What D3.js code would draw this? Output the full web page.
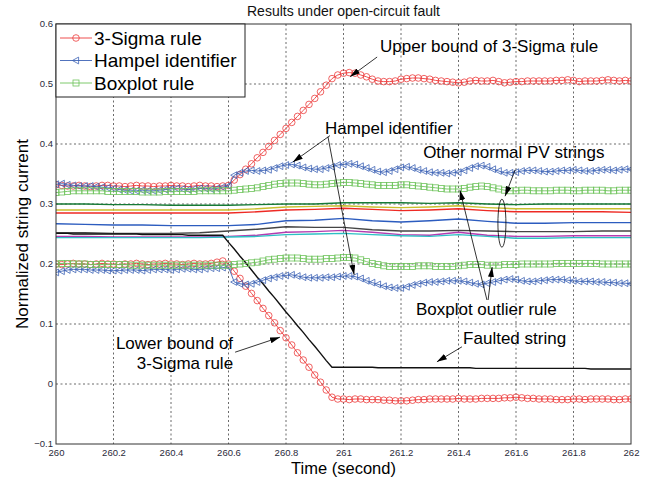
<!DOCTYPE html>
<html><head><meta charset="utf-8">
<script src="https://cdn.jsdelivr.net/npm/d3@7"></script>
<style>html,body{margin:0;padding:0;background:#fff;}svg{display:block;font-family:"Liberation Sans",Arial,Helvetica,sans-serif;}</style>
</head><body><svg id="c" width="648" height="478"></svg>
<script>
// ---------------- DATA ----------------
const tStart = 260, tEnd = 262;
const xTicks = [260, 260.2, 260.4, 260.6, 260.8, 261, 261.2, 261.4, 261.6, 261.8, 262];
const yTicks = [-0.1, 0, 0.1, 0.2, 0.3, 0.4, 0.5, 0.6];
// sample times for marker series (0.02 s step)
const time = d3.range(101).map(i => +(260 + i * 0.02).toFixed(2));
// sample times for normal strings (0.1 s step)
const timeNorm = d3.range(21).map(i => +(260 + i * 0.1).toFixed(1));

const sigmaUpper = [0.332,0.331,0.330,0.330,0.331,0.330,0.329,0.330,0.331,0.331,
0.330,0.330,0.329,0.330,0.331,0.330,0.330,0.329,0.330,0.330,
0.331,0.330,0.330,0.329,0.330,0.331,0.330,0.330,0.329,0.330,
0.331,0.340,0.349,0.358,0.367,0.377,0.386,0.396,0.406,0.416,
0.426,0.436,0.446,0.456,0.466,0.476,0.487,0.498,0.509,0.515,
0.518,0.519,0.518,0.515,0.512,0.508,0.505,0.504,0.504,0.505,
0.508,0.509,0.510,0.510,0.509,0.508,0.506,0.505,0.504,0.503,
0.502,0.503,0.505,0.506,0.505,0.505,0.506,0.504,0.502,0.503,
0.504,0.504,0.505,0.505,0.505,0.505,0.505,0.506,0.506,0.507,
0.506,0.504,0.505,0.505,0.505,0.506,0.507,0.506,0.505,0.506,0.505];
const sigmaLower = [0.200,0.199,0.200,0.201,0.200,0.200,0.199,0.200,0.201,0.200,
0.200,0.199,0.200,0.200,0.201,0.200,0.199,0.200,0.200,0.201,
0.200,0.200,0.199,0.200,0.201,0.200,0.200,0.201,0.203,0.205,
0.200,0.188,0.176,0.163,0.151,0.139,0.126,0.114,0.102,0.089,
0.077,0.065,0.052,0.040,0.028,0.015,0.003,-0.010,-0.022,-0.025,
-0.025,-0.026,-0.025,-0.025,-0.026,-0.026,-0.026,-0.027,-0.027,-0.028,
-0.028,-0.028,-0.027,-0.026,-0.026,-0.025,-0.025,-0.025,-0.025,-0.025,
-0.024,-0.025,-0.025,-0.025,-0.024,-0.024,-0.024,-0.024,-0.023,-0.023,
-0.022,-0.023,-0.024,-0.024,-0.025,-0.025,-0.025,-0.026,-0.026,-0.026,
-0.025,-0.025,-0.026,-0.025,-0.025,-0.025,-0.025,-0.026,-0.026,-0.025,-0.025];
const hampelUpper = [0.333,0.334,0.332,0.331,0.330,0.330,0.330,0.329,0.328,0.327,
0.326,0.324,0.323,0.322,0.322,0.323,0.322,0.322,0.323,0.324,
0.325,0.326,0.325,0.324,0.325,0.326,0.326,0.325,0.326,0.328,
0.330,0.348,0.352,0.355,0.356,0.355,0.356,0.357,0.360,0.363,
0.365,0.366,0.364,0.361,0.359,0.358,0.358,0.360,0.362,0.365,
0.366,0.367,0.366,0.363,0.360,0.357,0.354,0.353,0.355,0.358,
0.361,0.362,0.360,0.357,0.355,0.353,0.352,0.352,0.351,0.352,
0.353,0.356,0.360,0.363,0.364,0.362,0.358,0.355,0.352,0.352,
0.353,0.355,0.356,0.356,0.355,0.354,0.354,0.355,0.356,0.356,
0.357,0.356,0.355,0.355,0.356,0.357,0.357,0.356,0.357,0.358,0.358];
const hampelLower = [0.186,0.188,0.190,0.191,0.191,0.191,0.190,0.190,0.190,0.189,
0.189,0.189,0.190,0.190,0.190,0.189,0.190,0.191,0.191,0.191,
0.190,0.191,0.192,0.192,0.191,0.191,0.192,0.193,0.193,0.194,
0.195,0.170,0.167,0.166,0.167,0.170,0.173,0.176,0.178,0.180,
0.181,0.182,0.180,0.178,0.177,0.177,0.177,0.178,0.178,0.179,
0.180,0.180,0.179,0.176,0.172,0.169,0.166,0.163,0.161,0.160,
0.160,0.162,0.165,0.167,0.169,0.170,0.170,0.171,0.172,0.172,
0.172,0.171,0.169,0.167,0.166,0.168,0.170,0.172,0.174,0.175,
0.174,0.172,0.171,0.171,0.172,0.173,0.174,0.174,0.174,0.173,
0.172,0.171,0.171,0.171,0.170,0.170,0.169,0.169,0.168,0.168,0.167];
const boxUpper = [0.319,0.320,0.321,0.322,0.322,0.322,0.322,0.322,0.322,0.321,
0.321,0.321,0.321,0.321,0.321,0.320,0.320,0.320,0.320,0.321,
0.321,0.321,0.321,0.321,0.321,0.322,0.322,0.322,0.322,0.322,
0.322,0.323,0.324,0.325,0.326,0.327,0.329,0.331,0.333,0.334,
0.335,0.335,0.335,0.334,0.333,0.332,0.332,0.333,0.334,0.335,
0.336,0.336,0.335,0.334,0.333,0.332,0.331,0.331,0.331,0.331,
0.332,0.332,0.331,0.330,0.329,0.328,0.327,0.326,0.325,0.325,
0.325,0.326,0.328,0.329,0.330,0.329,0.327,0.325,0.323,0.322,
0.322,0.323,0.323,0.322,0.322,0.322,0.322,0.323,0.323,0.323,
0.322,0.322,0.323,0.323,0.323,0.323,0.322,0.322,0.323,0.323,0.323];
const boxLower = [0.200,0.201,0.201,0.200,0.200,0.200,0.199,0.199,0.199,0.199,
0.199,0.199,0.199,0.198,0.198,0.198,0.198,0.198,0.198,0.198,
0.198,0.198,0.198,0.198,0.198,0.198,0.198,0.198,0.198,0.198,
0.198,0.199,0.200,0.201,0.202,0.203,0.205,0.207,0.208,0.209,
0.210,0.210,0.210,0.209,0.208,0.208,0.208,0.209,0.209,0.210,
0.211,0.211,0.210,0.207,0.204,0.201,0.199,0.197,0.196,0.196,
0.196,0.196,0.196,0.197,0.197,0.197,0.196,0.196,0.196,0.196,
0.197,0.198,0.199,0.199,0.199,0.198,0.198,0.198,0.199,0.199,
0.199,0.200,0.200,0.200,0.200,0.200,0.200,0.201,0.201,0.201,
0.201,0.201,0.201,0.201,0.201,0.200,0.200,0.200,0.200,0.200,0.200];
const faulted = [0.251,0.251,0.251,0.250,0.250,0.250,0.250,0.250,0.250,0.250,
0.250,0.250,0.250,0.250,0.250,0.249,0.249,0.249,0.249,0.249,
0.249,0.249,0.249,0.248,0.248,0.248,0.248,0.248,0.248,0.248,
0.236,0.225,0.213,0.202,0.190,0.178,0.167,0.155,0.144,0.132,
0.120,0.109,0.097,0.086,0.074,0.063,0.051,0.039,0.028,0.028,
0.028,0.028,0.028,0.028,0.028,0.028,0.027,0.027,0.027,0.027,
0.027,0.027,0.027,0.027,0.027,0.027,0.027,0.027,0.027,0.027,
0.027,0.027,0.027,0.026,0.026,0.026,0.026,0.026,0.026,0.026,
0.026,0.026,0.026,0.026,0.026,0.026,0.026,0.026,0.026,0.026,
0.026,0.026,0.026,0.025,0.025,0.025,0.025,0.025,0.025,0.025,0.025];

const normalNames = ["green","yellow","red","blue","gray","magenta","cyan"];
const normGreen   = [0.300,0.300,0.299,0.299,0.298,0.298,0.298,0.299,0.300,0.300,0.302,0.302,0.302,0.301,0.302,0.300,0.299,0.300,0.300,0.300,0.300];
const normYellow  = [0.290,0.290,0.290,0.290,0.290,0.290,0.290,0.292,0.295,0.296,0.297,0.295,0.294,0.295,0.297,0.294,0.292,0.292,0.292,0.292,0.292];
const normRed     = [0.285,0.285,0.285,0.285,0.285,0.285,0.285,0.287,0.290,0.291,0.293,0.291,0.289,0.290,0.292,0.289,0.287,0.287,0.287,0.287,0.286];
const normBlue    = [0.267,0.266,0.265,0.265,0.264,0.264,0.264,0.266,0.272,0.273,0.276,0.272,0.270,0.272,0.275,0.271,0.268,0.268,0.269,0.269,0.269];
const normGray    = [0.252,0.252,0.251,0.251,0.251,0.252,0.255,0.258,0.262,0.261,0.261,0.257,0.255,0.255,0.256,0.255,0.254,0.254,0.254,0.255,0.255];
const normMagenta = [0.246,0.246,0.245,0.245,0.245,0.245,0.246,0.248,0.253,0.254,0.256,0.253,0.249,0.248,0.253,0.248,0.246,0.246,0.247,0.247,0.247];
const normCyan    = [0.244,0.244,0.244,0.244,0.244,0.244,0.245,0.246,0.249,0.250,0.251,0.249,0.247,0.246,0.249,0.246,0.243,0.243,0.244,0.244,0.244];

const legendLabels = ["3-Sigma rule", "Hampel identifier", "Boxplot rule"];

// ---------------- LAYOUT ----------------
const W = 648, H = 478;
const m = {left: 56, right: 17, top: 24, bottom: 34};
const svg = d3.select("#c");
const x = d3.scaleLinear().domain([tStart, tEnd]).range([m.left, W - m.right]);
const y = d3.scaleLinear().domain([-0.1, 0.6]).range([H - m.bottom, m.top]);
const x0 = m.left, x1 = W - m.right, y0 = m.top, y1 = H - m.bottom;

const C = {red: "#ec3b3b", blue: "#3d63b5", green: "#6fc45c"};
const normColors = {green:"#167a36", yellow:"#c9bf2d", red:"#ee2a24", blue:"#2c5cbf", gray:"#454545", magenta:"#b33cb0", cyan:"#2cc0c4"};

// grid
const grid = svg.append("g").attr("stroke", "#444").attr("stroke-width", 0.8).attr("stroke-dasharray", "2,2.5");
xTicks.slice(1, -1).forEach(t => grid.append("line").attr("x1", x(t)).attr("x2", x(t)).attr("y1", y0).attr("y2", y1));
yTicks.slice(1, -1).forEach(v => grid.append("line").attr("x1", x0).attr("x2", x1).attr("y1", y(v)).attr("y2", y(v)));

// axes (tick labels)
const xAxis = d3.axisBottom(x).tickValues(xTicks).tickSize(0).tickPadding(6).tickFormat(d => d3.format("")(+d.toFixed(1)));
const yAxis = d3.axisLeft(y).tickValues(yTicks).tickSize(0).tickPadding(3).tickFormat(d => d3.format("")(+d.toFixed(1)));
const gx = svg.append("g").attr("transform", `translate(0,${y1})`).call(xAxis);
const gy = svg.append("g").attr("transform", `translate(${x0},0)`).call(yAxis);
[gx, gy].forEach(g => { g.select(".domain").remove(); g.selectAll("text").attr("font-size", 9.5).attr("fill", "#2a2a3a").attr("font-family", "Liberation Sans, Arial, sans-serif"); });
gx.selectAll("text").attr("dy", "0.6em");
gy.selectAll("text").attr("dy", "0.3em");

const clip = svg.append("defs").append("clipPath").attr("id", "clip").append("rect").attr("x", x0).attr("y", y0).attr("width", x1 - x0).attr("height", y1 - y0);
const plot = svg.append("g").attr("clip-path", "url(#clip)");

// normal strings
const lineN = d3.line().x((d, i) => x(timeNorm[i])).y(d => y(d));
const normSeries = [normGreen, normYellow, normRed, normBlue, normGray, normMagenta, normCyan];
normSeries.forEach((s, k) => plot.append("path").attr("d", lineN(s)).attr("fill", "none").attr("stroke", normColors[normalNames[k]]).attr("stroke-width", 1.4));

// faulted string
const lineT = d3.line().x((d, i) => x(time[i])).y(d => y(d));
plot.append("path").attr("d", lineT(faulted)).attr("fill", "none").attr("stroke", "#111").attr("stroke-width", 1.4);

// marker helpers
function drawSeries(vals, color, kind) {
  plot.append("path").attr("d", lineT(vals)).attr("fill", "none").attr("stroke", color).attr("stroke-width", 0.9);
  const g = plot.append("g").attr("fill", "none").attr("stroke", color).attr("stroke-width", 0.8);
  vals.forEach((v, i) => addMarker(g, x(time[i]), y(v), kind));
}
function addMarker(g, cx, cy, kind) {
  if (kind === "circle") g.append("circle").attr("cx", cx).attr("cy", cy).attr("r", 3.3);
  else if (kind === "tri") g.append("path").attr("d", `M${cx - 3.6},${cy} L${cx + 2.6},${cy - 3.4} L${cx + 2.6},${cy + 3.4} Z`);
  else g.append("rect").attr("x", cx - 3).attr("y", cy - 3).attr("width", 6).attr("height", 6);
}
drawSeries(sigmaUpper, C.red, "circle");
drawSeries(sigmaLower, C.red, "circle");
drawSeries(hampelUpper, C.blue, "tri");
drawSeries(hampelLower, C.blue, "tri");
drawSeries(boxUpper, C.green, "square");
drawSeries(boxLower, C.green, "square");

// frame
svg.append("rect").attr("x", x0).attr("y", y0).attr("width", x1 - x0).attr("height", y1 - y0).attr("fill", "none").attr("stroke", "#333").attr("stroke-width", 1);

// legend
const lg = svg.append("g");
lg.append("rect").attr("x", x0).attr("y", y0).attr("width", 189).attr("height", 73).attr("fill", "#fff").attr("stroke", "#222").attr("stroke-width", 1);
const legKinds = ["circle", "tri", "square"], legCols = [C.red, C.blue, C.green];
legendLabels.forEach((lab, i) => {
  const ly = 38 + i * 22.5;
  lg.append("line").attr("x1", 60).attr("x2", 92).attr("y1", ly).attr("y2", ly).attr("stroke", legCols[i]).attr("stroke-width", 0.9);
  const mg = lg.append("g").attr("fill", "none").attr("stroke", legCols[i]).attr("stroke-width", 0.8);
  addMarker(mg, 76, ly, legKinds[i]);
  lg.append("text").attr("x", 94).attr("y", ly).attr("dy", "0.35em").attr("font-size", 19).attr("fill", "#000").text(lab);
});

// titles
svg.append("text").attr("x", (x0 + x1) / 2).attr("y", 16).attr("text-anchor", "middle").attr("font-size", 14).attr("fill", "#111").text("Results under open-circuit fault");
svg.append("text").attr("x", (x0 + x1) / 2).attr("y", 474).attr("text-anchor", "middle").attr("font-size", 16.5).attr("fill", "#000").text("Time (second)");
svg.append("text").attr("transform", `translate(28,${(y0 + y1) / 2}) rotate(-90)`).attr("text-anchor", "middle").attr("font-size", 17).attr("fill", "#000").text("Normalized string current");

// annotations (data coordinates)
const defs = svg.select("defs");
defs.append("marker").attr("id", "ah").attr("viewBox", "0 0 10 6").attr("refX", 10).attr("refY", 3)
  .attr("markerWidth", 10).attr("markerHeight", 6).attr("markerUnits", "userSpaceOnUse").attr("orient", "auto")
  .append("path").attr("d", "M0,0 L10,3 L0,6 Z").attr("fill", "#000");
const ann = svg.append("g").attr("font-size", 17).attr("fill", "#000");
function label(t, v, txt, anchor) { ann.append("text").attr("x", x(t)).attr("y", y(v)).attr("dy", "0.35em").attr("text-anchor", anchor || "start").text(txt); }
function arrow(ta, va, tb, vb) { ann.append("line").attr("x1", x(ta)).attr("y1", y(va)).attr("x2", x(tb)).attr("y2", y(vb)).attr("stroke", "#000").attr("stroke-width", 0.8).attr("marker-end", "url(#ah)"); }

label(261.127, 0.563, "Upper bound of 3-Sigma rule");
arrow(261.117, 0.545, 261.023, 0.512);
label(260.936, 0.427, "Hampel identifier");
arrow(260.953, 0.414, 260.824, 0.370);
arrow(260.946, 0.412, 261.037, 0.182);
label(261.277, 0.387, "Other normal PV strings");
arrow(261.597, 0.357, 261.562, 0.313);
ann.append("ellipse").attr("cx", x(261.551)).attr("cy", y(0.268)).attr("rx", 4).attr("ry", 24).attr("fill", "none").attr("stroke", "#000").attr("stroke-width", 0.8);
label(261.252, 0.125, "Boxplot outlier rule");
arrow(261.499, 0.140, 261.405, 0.323);
arrow(261.503, 0.140, 261.517, 0.195);
label(260.616, 0.068, "Lower bound of", "end");
label(260.616, 0.035, "3-Sigma rule", "end");
arrow(260.623, 0.053, 260.779, 0.078);
label(261.416, 0.077, "Faulted string");
arrow(261.412, 0.062, 261.325, 0.037);
</script></body></html>
